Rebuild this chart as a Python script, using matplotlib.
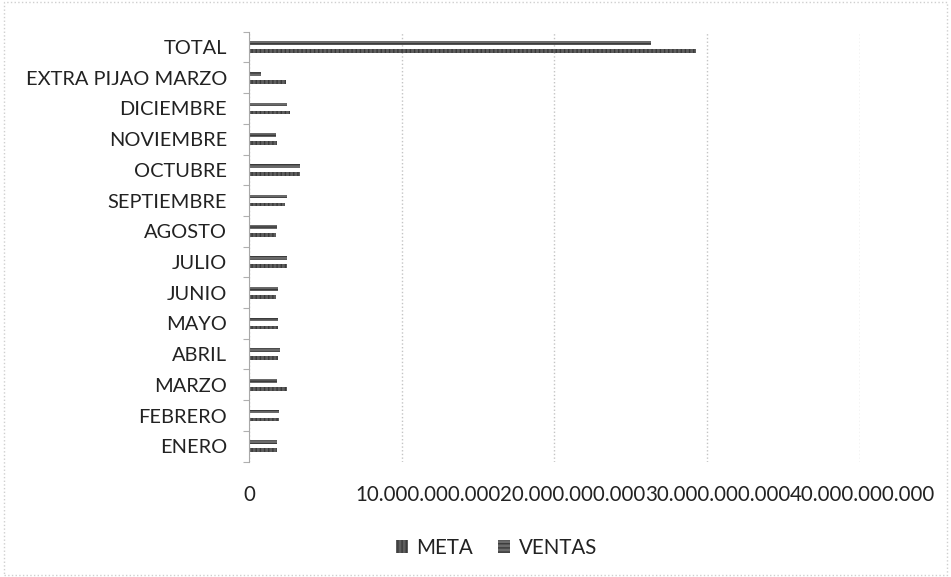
import numpy as np
import matplotlib
matplotlib.use('Agg')
import matplotlib.pyplot as plt
import matplotlib.transforms as mtransforms
from matplotlib.patches import Rectangle

plt.rcParams['font.family'] = ['Lato', 'DejaVu Sans']

# categories from bottom to top, as drawn
categorias = ['ENERO', 'FEBRERO', 'MARZO', 'ABRIL', 'MAYO', 'JUNIO', 'JULIO',
              'AGOSTO', 'SEPTIEMBRE', 'OCTUBRE', 'NOVIEMBRE', 'DICIEMBRE',
              'EXTRA PIJAO MARZO', 'TOTAL']
meta = [1.81e9, 1.98e9, 2.47e9, 1.92e9, 1.92e9, 1.77e9, 2.47e9,
        1.77e9, 2.36e9, 3.30e9, 1.81e9, 2.68e9, 2.42e9, 29.3e9]
ventas = [1.81e9, 1.98e9, 1.81e9, 2.03e9, 1.86e9, 1.86e9, 2.47e9,
          1.81e9, 2.47e9, 3.34e9, 1.77e9, 2.47e9, 0.77e9, 26.3e9]
ticks_x = [0, 10e9, 20e9, 30e9, 40e9]

fig = plt.figure(figsize=(9.51, 5.77), dpi=100)
ax = fig.add_axes([0.262, 0.200, 0.642, 0.745])

y = np.arange(len(categorias))
h = 0.12
ax.barh(y - 0.13, meta, height=h, color='#5e5e5e', hatch='||||', edgecolor='#3a3a3a', linewidth=0, label='META')
ax.barh(y + 0.13, ventas, height=h, color='#6a6a6a', hatch='----', edgecolor='#3a3a3a', linewidth=0, label='VENTAS')

ax.set_xlim(0, 40e9)
ax.set_ylim(-0.5, len(categorias) - 0.5)
ax.set_xticks(ticks_x)
ax.set_xticklabels([f'{v:,.0f}'.replace(',', '.') for v in ticks_x], fontsize=14.8, color='#222222')
ax.tick_params(axis='x', length=0, pad=17)

# labels in the scan sit side by side, nudged right of their gridlines
for i, lab in enumerate(ax.get_xticklabels()):
    if i == 0:
        continue
    dx = (2.5 + (4 - i) * 8) / 100
    lab.set_transform(lab.get_transform() + mtransforms.ScaledTranslation(dx, 0, fig.dpi_scale_trans))

ax.set_yticks(y)
ax.set_yticklabels(categorias, fontsize=14.4, color='#222222')
ax.set_yticks(np.arange(-0.5, len(categorias), 1), minor=True)
ax.tick_params(axis='y', which='major', length=0, pad=16)
ax.tick_params(axis='y', which='minor', length=4, color='#b0b0b0', width=0.8)

ax.grid(axis='x', color='#c4c4c4', linestyle=':', linewidth=1)
ax.set_axisbelow(True)
for s in ['top', 'right', 'bottom']:
    ax.spines[s].set_visible(False)
ax.spines['left'].set_color('#a8a8a8')

fig.legend(loc='center', bbox_to_anchor=(0.522, 0.05), ncol=2, frameon=False,
           fontsize=14.8, handlelength=0.6, handleheight=0.6, handletextpad=0.4,
           columnspacing=1.2, labelcolor='#222222')

fig.patches.append(Rectangle((0.004, 0.004), 0.992, 0.992, transform=fig.transFigure,
                             fill=False, edgecolor='#cfcfcf', linestyle=':', linewidth=1))

fig.savefig('out.png', dpi=100)
